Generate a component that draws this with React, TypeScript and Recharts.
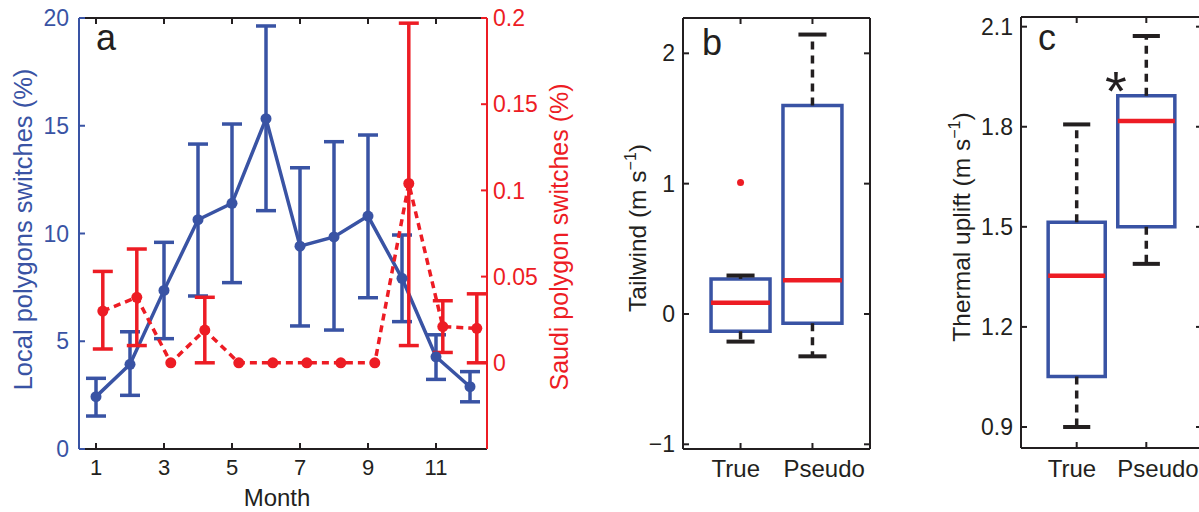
import React from 'react';
import {
  ComposedChart,
  Line,
  XAxis,
  YAxis,
  ErrorBar,
  ReferenceArea,
  ReferenceLine,
  Scatter,
  Label,
} from 'recharts';

const BLUE = '#3953A4';
const RED = '#ED1C24';
const INK = '#231F20';
const FONT = '"Liberation Sans", Arial, Helvetica, sans-serif';

// ---- Panel a data ----
const months = [1, 2, 3, 4, 5, 6, 7, 8, 9, 10, 11, 12];
const monthTicks = [1, 3, 5, 7, 9, 11];
const localMean = [2.43, 3.93, 7.36, 10.64, 11.4, 15.33, 9.41, 9.84, 10.81, 7.92, 4.28, 2.89];
const localLow = [1.53, 2.49, 5.12, 7.1, 7.72, 11.06, 5.71, 5.52, 7.02, 5.91, 3.23, 2.19];
const localHigh = [3.28, 5.44, 9.59, 14.15, 15.08, 19.63, 13.05, 14.26, 14.57, 9.93, 5.3, 3.59];
const saudiMean = [0.03, 0.038, 0, 0.019, 0, 0, 0, 0, 0, 0.104, 0.021, 0.02];
const saudiLow = [0.008, 0.01, null, 0, null, null, null, null, null, 0.01, 0.006, 0];
const saudiHigh = [0.053, 0.066, null, 0.038, null, null, null, null, null, 0.197, 0.036, 0.04];
const saudiDodge = 0.2;
const localTicks = [0, 5, 10, 15, 20];
const saudiTicks = [0, 0.05, 0.1, 0.15, 0.2];

// ---- Panel b data (Tailwind) ----
const groups = ['True', 'Pseudo'];
const groupPos = [1, 2];
const tailLo = [-0.212, -0.325];
const tailQ1 = [-0.133, -0.071];
const tailMed = [0.087, 0.259];
const tailQ3 = [0.269, 1.599];
const tailHi = [0.295, 2.144];
const tailOutliers = [{ pos: 1, value: 1.008 }];
const tailTicks = [-1, 0, 1, 2];

// ---- Panel c data (Thermal uplift) ----
const upLo = [0.9, 1.389];
const upQ1 = [1.051, 1.5];
const upMed = [1.353, 1.817];
const upQ3 = [1.514, 1.893];
const upHi = [1.807, 2.072];
const upTicks = [0.9, 1.2, 1.5, 1.8, 2.1];

const localData = months.map((m, i) => ({
  month: m,
  value: localMean[i],
  err: [localMean[i] - localLow[i], localHigh[i] - localMean[i]],
}));
const saudiData = months.map((m, i) => ({
  month: m + saudiDodge,
  value: saudiMean[i],
  err:
    saudiLow[i] == null
      ? null
      : [saudiMean[i] - (saudiLow[i] as number), (saudiHigh[i] as number) - saudiMean[i]],
}));

const NoTick = () => <g />;
const minusFmt = (v: number) => (v < 0 ? '\u2212' + Math.abs(v) : String(v));
const groupFmt = (v: number) => groups[groupPos.indexOf(v)] ?? '';

// category labels are left-anchored a little before their tick, as in the original
const GroupTick = (props: any) => (
  <text x={props.x - 29} y={props.y} dy="0.71em" textAnchor="start" fontSize={24} fill={INK}>
    {groupFmt(props.payload.value)}
  </text>
);

const frame = { stroke: INK, strokeWidth: 2 };

const BOX_HW = 0.41;
const CAP_HW = 0.195;

function boxElements(lo: number[], q1: number[], med: number[], q3: number[], hi: number[]) {
  const out: React.ReactNode[] = [];
  groupPos.forEach((p, i) => {
    out.push(
      <ReferenceLine
        key={'wu' + i}
        segment={[{ x: p, y: q3[i] }, { x: p, y: hi[i] }]}
        stroke={INK}
        strokeWidth={3.5}
        strokeDasharray="8 6"
        ifOverflow="visible"
      />
    );
    out.push(
      <ReferenceLine
        key={'wl' + i}
        segment={[{ x: p, y: q1[i] }, { x: p, y: lo[i] }]}
        stroke={INK}
        strokeWidth={3.5}
        strokeDasharray="8 6"
        ifOverflow="visible"
      />
    );
  });
  groupPos.forEach((p, i) => {
    out.push(
      <ReferenceArea
        key={'b' + i}
        x1={p - BOX_HW}
        x2={p + BOX_HW}
        y1={q1[i]}
        y2={q3[i]}
        fill="#ffffff"
        fillOpacity={1}
        stroke={BLUE}
        strokeWidth={3.5}
        ifOverflow="visible"
      />
    );
  });
  groupPos.forEach((p, i) => {
    out.push(
      <ReferenceLine
        key={'m' + i}
        segment={[{ x: p - BOX_HW, y: med[i] }, { x: p + BOX_HW, y: med[i] }]}
        stroke={RED}
        strokeWidth={4.5}
        ifOverflow="visible"
      />
    );
    out.push(
      <ReferenceLine
        key={'ch' + i}
        segment={[{ x: p - CAP_HW, y: hi[i] }, { x: p + CAP_HW, y: hi[i] }]}
        stroke={INK}
        strokeWidth={4}
        ifOverflow="visible"
      />
    );
    out.push(
      <ReferenceLine
        key={'cl' + i}
        segment={[{ x: p - CAP_HW, y: lo[i] }, { x: p + CAP_HW, y: lo[i] }]}
        stroke={INK}
        strokeWidth={4}
        ifOverflow="visible"
      />
    );
  });
  return out;
}

const OutlierDot = (props: any) => <circle cx={props.cx} cy={props.cy} r={3.5} fill={RED} />;

const groupRows = groupPos.map((p, i) => ({ pos: p, name: groups[i] }));

export default function App() {
  return (
    <div
      style={{
        position: 'absolute',
        left: 0,
        top: 0,
        width: 1199,
        height: 512,
        overflow: 'hidden',
        background: '#fff',
        fontFamily: FONT,
      }}
    >
      {/* Panel a */}
      <div style={{ position: 'absolute', left: 0, top: 0 }}>
        <ComposedChart width={600} height={512} margin={{ top: 8, right: 0, bottom: 0, left: 0 }}>
          <XAxis
            xAxisId="top"
            orientation="top"
            type="number"
            dataKey="month"
            domain={[0.5, 12.5]}
            allowDataOverflow
            ticks={monthTicks}
            interval={0}
            height={10}
            tick={NoTick}
            tickSize={-6}
            axisLine={frame}
            tickLine={frame}
          />
          <XAxis
            type="number"
            dataKey="month"
            domain={[0.5, 12.5]}
            allowDataOverflow
            ticks={monthTicks}
            interval={0}
            height={63}
            tickSize={-6}
            tickMargin={16}
            tick={{ fontSize: 22, fill: INK }}
            axisLine={frame}
            tickLine={frame}
          >
            <Label value="Month" position="insideBottom" offset={6} dx={-6} fontSize={24} fill={INK} />
          </XAxis>
          <YAxis
            yAxisId="left"
            orientation="left"
            type="number"
            domain={[0, 20]}
            allowDataOverflow
            ticks={localTicks}
            interval={0}
            width={79}
            tickSize={-6}
            tickMargin={16}
            tick={{ fontSize: 23, fill: BLUE }}
            axisLine={{ stroke: BLUE, strokeWidth: 2 }}
            tickLine={{ stroke: BLUE, strokeWidth: 2 }}
          />
          <YAxis
            yAxisId="right"
            orientation="right"
            type="number"
            domain={[-0.05, 0.2]}
            allowDataOverflow
            ticks={saudiTicks}
            interval={0}
            width={113}
            tickSize={-6}
            tickMargin={12}
            tick={{ fontSize: 23, fill: RED }}
            axisLine={{ stroke: RED, strokeWidth: 2 }}
            tickLine={{ stroke: RED, strokeWidth: 2 }}
          />
          <Line
            yAxisId="left"
            data={localData}
            dataKey="value"
            stroke={BLUE}
            strokeWidth={3.5}
            dot={{ r: 5.5, fill: BLUE, stroke: BLUE, strokeWidth: 0 }}
            activeDot={false}
            isAnimationActive={false}
          >
            <ErrorBar dataKey="err" direction="y" width={10} stroke={BLUE} strokeWidth={3.5} />
          </Line>
          <Line
            yAxisId="right"
            data={saudiData}
            dataKey="value"
            stroke={RED}
            strokeWidth={3.5}
            strokeDasharray="7 5"
            dot={{ r: 5.5, fill: RED, stroke: RED, strokeWidth: 0 }}
            activeDot={false}
            isAnimationActive={false}
          >
            <ErrorBar dataKey="err" direction="y" width={10} stroke={RED} strokeWidth={3.5} />
          </Line>
        </ComposedChart>
      </div>

      {/* Panel b */}
      <div style={{ position: 'absolute', left: 600, top: 0 }}>
        <ComposedChart width={300} height={512} margin={{ top: 8, right: 0, bottom: 0, left: 0 }} data={groupRows}>
          <XAxis
            xAxisId="top"
            orientation="top"
            type="number"
            dataKey="pos"
            domain={[0.2, 2.8]}
            allowDataOverflow
            ticks={groupPos}
            interval={0}
            height={10}
            tick={NoTick}
            tickSize={-6}
            axisLine={frame}
            tickLine={frame}
          />
          <XAxis
            type="number"
            dataKey="pos"
            domain={[0.2, 2.8]}
            allowDataOverflow
            ticks={groupPos}
            interval={0}
            height={63}
            tickSize={-6}
            tickMargin={17}
            tick={GroupTick}
            axisLine={frame}
            tickLine={frame}
          />
          <YAxis
            type="number"
            domain={[-1.036, 2.271]}
            allowDataOverflow
            ticks={tailTicks}
            interval={0}
            tickFormatter={minusFmt}
            width={83}
            tickSize={-6}
            tickMargin={14}
            tick={{ fontSize: 23, fill: INK }}
            axisLine={frame}
            tickLine={frame}
          />
          <YAxis
            yAxisId="mirror"
            orientation="right"
            type="number"
            domain={[-1.036, 2.271]}
            allowDataOverflow
            ticks={tailTicks}
            interval={0}
            width={30}
            tick={NoTick}
            tickSize={-6}
            axisLine={frame}
            tickLine={frame}
          />
          {boxElements(tailLo, tailQ1, tailMed, tailQ3, tailHi)}
          <Scatter data={tailOutliers} dataKey="value" shape={OutlierDot} isAnimationActive={false} />
        </ComposedChart>
      </div>

      {/* Panel c */}
      <div style={{ position: 'absolute', left: 900, top: 0 }}>
        <ComposedChart width={332} height={512} margin={{ top: 7, right: 0, bottom: 0, left: 0 }} data={groupRows}>
          <XAxis
            xAxisId="top"
            orientation="top"
            type="number"
            dataKey="pos"
            domain={[0.2, 2.8]}
            allowDataOverflow
            ticks={groupPos}
            interval={0}
            height={10}
            tick={NoTick}
            tickSize={-6}
            axisLine={frame}
            tickLine={frame}
          />
          <XAxis
            type="number"
            dataKey="pos"
            domain={[0.2, 2.8]}
            allowDataOverflow
            ticks={groupPos}
            interval={0}
            height={64}
            tickSize={-6}
            tickMargin={18}
            tick={GroupTick}
            axisLine={frame}
            tickLine={frame}
          />
          <YAxis
            type="number"
            domain={[0.837, 2.129]}
            allowDataOverflow
            ticks={upTicks}
            interval={0}
            tickFormatter={(v: number) => v.toFixed(1)}
            width={121}
            tickSize={-6}
            tickMargin={14}
            tick={{ fontSize: 23, fill: INK }}
            axisLine={frame}
            tickLine={frame}
          />
          <YAxis
            yAxisId="mirror"
            orientation="right"
            type="number"
            domain={[0.837, 2.129]}
            allowDataOverflow
            ticks={upTicks}
            interval={0}
            width={30}
            tick={NoTick}
            tickSize={-6}
            axisLine={frame}
            tickLine={frame}
          />
          {boxElements(upLo, upQ1, upMed, upQ3, upHi)}
        </ComposedChart>
      </div>

      {/* Titles and panel letters */}
      <svg
        width={1199}
        height={512}
        style={{ position: 'absolute', left: 0, top: 0, pointerEvents: 'none', fontFamily: FONT }}
      >
        <text x={96} y={50} fontSize={36} fill={INK}>a</text>
        <text x={702} y={55} fontSize={36} fill={INK}>b</text>
        <text x={1038} y={50} fontSize={36} fill={INK}>c</text>
        <text transform="translate(32,229.5) rotate(-90)" textAnchor="middle" fontSize={25.5} fill={BLUE}>
          Local polygons switches (%)
        </text>
        <text transform="translate(568,237) rotate(-90)" textAnchor="middle" fontSize={25} fill={RED}>
          Saudi polygon switches (%)
        </text>
        <text transform="translate(646,228) rotate(-90)" textAnchor="middle" fontSize={24.5} fill={INK}>
          Tailwind (m s<tspan fontSize={16} dy={-10}>{'\u22121'}</tspan>
          <tspan dy={10}>)</tspan>
        </text>
        <text transform="translate(970,227) rotate(-90)" textAnchor="middle" fontSize={24.5} fill={INK}>
          Thermal uplift (m s<tspan fontSize={16} dy={-10}>{'\u22121'}</tspan>
          <tspan dy={10}>)</tspan>
        </text>
        <text x={1116} y={110} textAnchor="middle" fontSize={56} fill={INK}>*</text>
      </svg>
    </div>
  );
}
